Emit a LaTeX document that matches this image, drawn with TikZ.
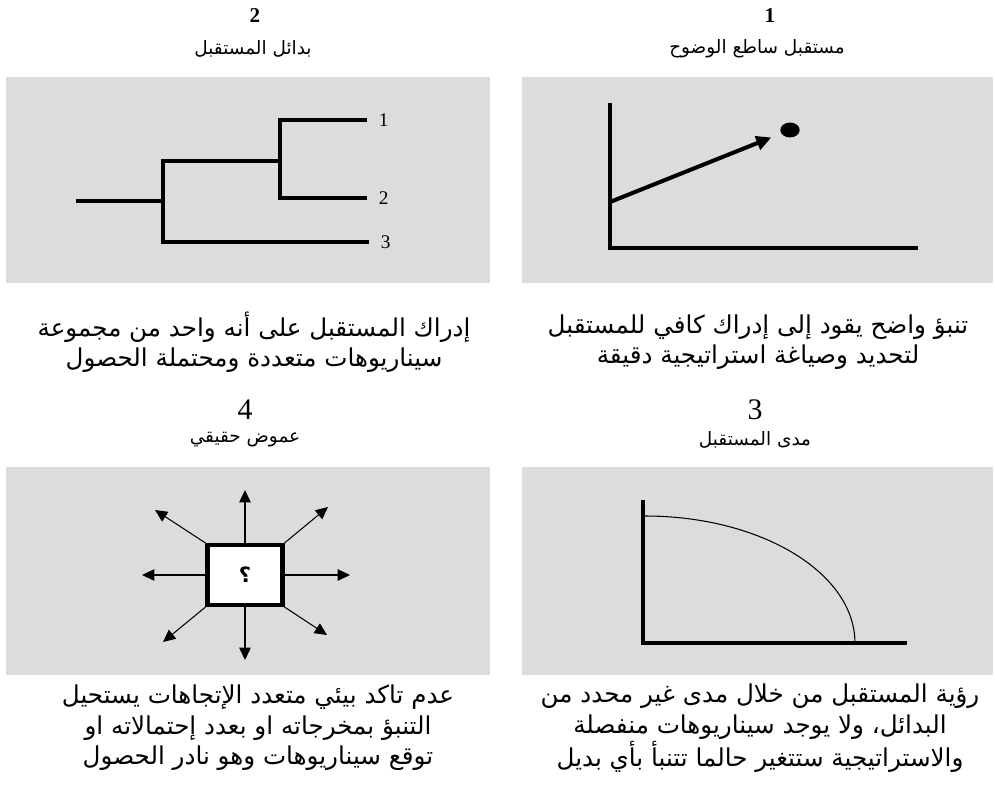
\documentclass[tikz,border=0pt]{standalone}
\usepackage{fontspec}
\setmainfont{Liberation Serif}
\newfontfamily\arabicfont[Script=Arabic]{DejaVu Sans}
\TeXXeTstate=1
\usetikzlibrary{arrows.meta,shapes.geometric}
\definecolor{panelgray}{RGB}{220,220,220}
\tikzset{
    panel/.style={fill=panelgray,draw=none},
    heavy/.style={line width=2.3pt},
    axisline/.style={line width=2.8pt},
    thinarrow/.style={line width=0.6pt,-{Triangle[length=7pt,width=6.5pt]}},
    numtop/.style={font=\bfseries\fontsize{12}{14}\selectfont},
    numbottom/.style={font=\fontsize{17}{19}\selectfont},
    title/.style={font=\arabicfont\fontsize{10.5}{12}\selectfont},
    desc/.style={font=\arabicfont\fontsize{14}{17.3}\selectfont,align=center},
    leaf/.style={font=\fontsize{11}{12}\selectfont,anchor=west,inner xsep=6.5pt,inner ysep=0pt},
    dot/.style={ellipse,fill=black,inner sep=0pt,minimum width=11pt,minimum height=8.5pt},
    qbox/.style={draw,line width=2.3pt,fill=white,minimum width=1.5cm,minimum height=1.2cm,
        font=\arabicfont\bfseries\fontsize{12}{14}\selectfont}
}
\begin{document}
\begin{tikzpicture}[x=0.02cm,y=-0.02cm]
        \useasboundingbox (0,0) rectangle (995,805);
        % Panel 1: clear future
        \begin{scope}
            \fill[panel] (522,77) rectangle (993,283);
            \node[numtop] (num1) at (770,16) {1};
            \node[title] (title1) at (757,49) {\beginR مستقبل ساطع الوضوح\endR};
            \draw[heavy] (610,103) -- (610,248) -- (918,248);
            \coordinate (start1) at (610,202);
            \node[dot] (target1) at (790,130) {};
            \draw[heavy,-{Triangle[length=8.5pt,width=8pt]},shorten >=6pt] (start1) -- (target1);
            \node[desc] (desc1) at (758,342) {\beginR تنبؤ واضح يقود إلى إدراك كافي للمستقبل\endR\\\beginR لتحديد وصياغة استراتيجية دقيقة\endR};
        \end{scope}
        % Panel 2: alternate futures
        \begin{scope}
            \fill[panel] (6,77) rectangle (490,283);
            \node[numtop] (num2) at (255,16) {2};
            \node[title] (title2) at (253,49) {\beginR بدائل المستقبل\endR};
            \coordinate (root) at (76,201);
            \coordinate (fork1) at (163,201);
            \coordinate (fork2) at (280,161);
            \node[leaf] (leaf1) at (367,120) {1};
            \node[leaf] (leaf2) at (367,198) {2};
            \node[leaf] (leaf3) at (369,242) {3};
            \draw[heavy] (root) -- (fork1);
            \draw[heavy] (leaf3.west) -| (fork1) |- (fork2);
            \draw[heavy] (leaf1.west) -| (fork2);
            \draw[heavy] (leaf2.west) -| (fork2);
            \node[desc] (desc2) at (254,342) {\beginR إدراك المستقبل على أنه واحد من مجموعة\endR\\\beginR سيناريوهات متعددة ومحتملة الحصول\endR};
        \end{scope}
        % Panel 3: range of futures
        \begin{scope}
            \fill[panel] (522,467) rectangle (993,675);
            \node[numbottom] (num3) at (755,410) {3};
            \node[title] (title3) at (755,440) {\beginR مدى المستقبل\endR};
            \draw[axisline] (643,500) -- (643,643) -- (907,643);
            \draw[line width=0.6pt] (645,516) arc[start angle=90,end angle=0,x radius=4.2cm,y radius=2.54cm];
            \node[desc] (desc3) at (760,728) {\beginR رؤية المستقبل من خلال مدى غير محدد من\endR\\\beginR البدائل، ولا يوجد سيناريوهات منفصلة\endR\\\beginR والاستراتيجية ستتغير حالما تتنبأ بأي بديل\endR};
        \end{scope}
        % Panel 4: true ambiguity
        \begin{scope}
            \fill[panel] (6,467) rectangle (490,675);
            \node[numbottom] (num4) at (245,410) {4};
            \node[title] (title4) at (245,440) {\beginR عموض حقيقي\endR};
            \node[qbox] (qbox) at (245,575) {؟};
            \foreach \anc/\ex/\ey in {north/245/490,south/245/660,west/142/575,east/350/575,
                north west/155/510,north east/328/507,south west/163/642,south east/327/635}
            {
                \coordinate (tip-\anc) at (\ex,\ey);
                \draw[thinarrow] (qbox.\anc) -- (tip-\anc);
            }
            \node[desc] (desc4) at (258,728) {\beginR عدم تاكد بيئي متعدد الإتجاهات يستحيل\endR\\\beginR التنبؤ بمخرجاته او بعدد إحتمالاته او\endR\\\beginR توقع سيناريوهات وهو نادر الحصول\endR};
        \end{scope}
    \end{tikzpicture}
\end{document}
